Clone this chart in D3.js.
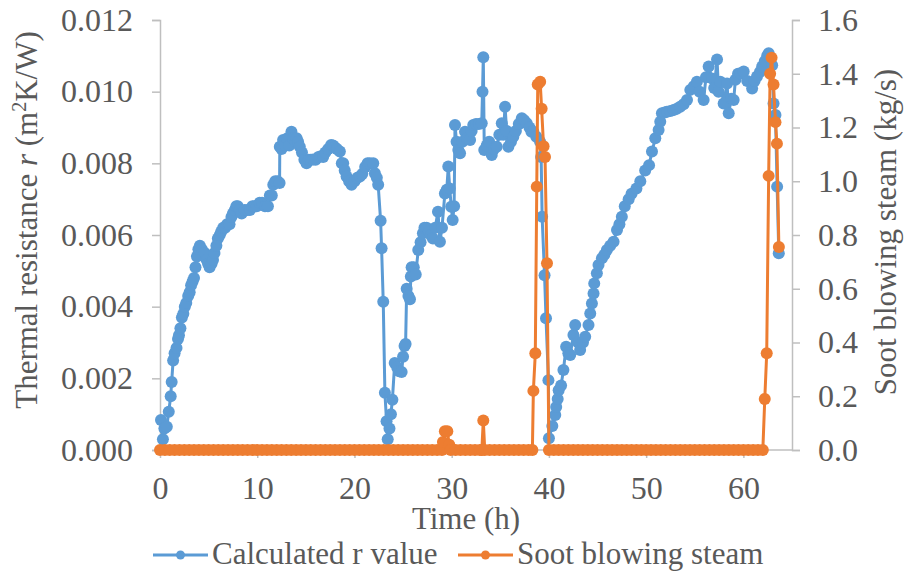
<!DOCTYPE html>
<html>
<head>
<meta charset="utf-8">
<script src="https://cdn.jsdelivr.net/npm/d3@7"></script>
<style>
  body { margin: 0; background: #fff; }
  svg text { font-family: "Liberation Serif", "Times New Roman", Times, serif; fill: #595959; }
</style>
</head>
<body>
<div id="chart"></div>
<script>
// calculated thermal resistance r (m2K/W) against time (h)
var rTime = [0.1, 0.3, 0.45, 0.7, 0.9, 1.1, 1.2, 1.35, 1.5, 1.7, 1.85, 1.95, 2.1, 2.25, 2.4, 2.55, 2.7, 2.9, 3.05, 3.2, 3.35, 3.5, 3.65, 3.8, 3.95, 4.1, 4.3, 4.6, 4.8, 4.95, 5.1, 5.3, 5.45, 5.6, 5.8, 5.95, 6.15, 6.3, 6.5, 6.7, 6.9, 7.15, 7.35, 7.5, 7.7, 7.85, 8.0, 8.2, 8.4, 8.7, 9.0, 9.25, 9.5, 9.7, 9.95, 10.25, 10.5, 10.8, 11.1, 11.3, 11.5, 11.65, 11.85, 12.1, 12.3,
  12.32, 12.5, 12.66, 12.9, 13.1, 13.3, 13.52, 13.7, 13.9, 14.05, 14.2, 14.38, 14.6, 14.85, 15.07, 15.3, 15.5, 15.75, 16.0, 16.3, 16.55, 16.78, 17.0, 17.3, 17.6, 17.8, 17.98, 18.2, 18.5, 18.7, 18.84, 19.0, 19.19, 19.45, 19.7, 20.0, 20.3, 20.56, 20.8, 21.1, 21.35, 21.59, 21.93, 22.1, 22.3, 22.44, 22.69, 22.79, 22.96, 23.13, 23.3, 23.42, 23.6, 23.75, 23.9,
  24.14, 24.4, 24.6, 24.85, 25.0, 25.15, 25.26, 25.37, 25.55, 25.71, 25.8, 25.88, 26.1, 26.3, 26.56, 26.8, 27.04, 27.2, 27.42, 27.65, 27.85, 28.07, 28.3, 28.59, 28.79, 29.0, 29.3, 29.49, 29.65, 29.8, 29.95, 30.1, 30.25, 30.34, 30.5, 30.68, 30.86, 31.1, 31.37, 31.6, 31.89, 32.05, 32.22, 32.5, 32.8, 33.09, 33.17, 33.25, 33.35, 33.6, 33.85, 34.12, 34.35, 34.63, 34.9, 35.15, 35.3, 35.49, 35.65, 35.83, 36.1, 36.34, 36.6, 36.9, 37.21, 37.45, 37.72, 38.0, 38.2, 38.4, 38.7, 39.09, 39.2, 39.3, 39.55, 39.7, 39.95,
  40.0, 40.35, 40.65, 40.75, 40.9, 41.0, 41.25, 41.49, 41.77, 42.0, 42.19, 42.52, 42.7, 43.0, 43.21, 43.5, 43.73, 44.07, 44.25, 44.42, 44.59, 44.66, 44.93, 45.1, 45.45, 45.7, 45.96, 46.3, 46.65, 47.0, 47.25, 47.5, 47.8, 48.2, 48.5, 49.0, 49.4, 49.9, 50.3, 50.6, 50.94, 51.28, 51.45, 51.62, 51.9, 52.14, 52.5, 52.82, 53.15, 53.5, 53.85, 54.2, 54.54, 54.9, 55.22, 55.5, 55.91, 56.15, 56.43, 56.78, 57.0, 57.29, 57.45, 57.63, 57.97, 58.32, 58.49, 58.75, 59.0, 59.18, 59.45, 59.7, 60.03, 60.4, 60.9, 61.15, 61.4, 61.7, 61.93, 62.2, 62.45, 62.6, 62.8, 62.96, 63.1, 63.3, 63.47, 63.64];
var rValue = [0.00084, 0.00030, 0.00060, 0.00065, 0.00107, 0.00150, 0.00190, 0.00250, 0.00270, 0.00285, 0.00310, 0.00320, 0.00340, 0.00370, 0.00380, 0.00400, 0.00410, 0.00430, 0.00440, 0.00460, 0.00470, 0.00480, 0.00510, 0.00540, 0.00560, 0.00570, 0.00560, 0.00550, 0.00530, 0.00520, 0.00510, 0.00520, 0.00530, 0.00550, 0.00570, 0.00590, 0.00600, 0.00610, 0.00620, 0.00620, 0.00630, 0.00630, 0.00650, 0.00660, 0.00670, 0.00680, 0.00680, 0.00670, 0.00660, 0.00670, 0.00670, 0.00670, 0.00680, 0.00680, 0.00680, 0.00690, 0.00690, 0.00680, 0.00680, 0.00710, 0.00710, 0.00740, 0.00750, 0.00750, 0.00745,
  0.00846, 0.00840, 0.00865, 0.00850, 0.00870, 0.00850, 0.00888, 0.00870, 0.00860, 0.00870, 0.00860, 0.00846, 0.00830, 0.00810, 0.00800, 0.00810, 0.00810, 0.00811, 0.00810, 0.00818, 0.00820, 0.00818, 0.00830, 0.00840, 0.00851, 0.00850, 0.00845, 0.00840, 0.00833, 0.00800, 0.00800, 0.00780, 0.00763, 0.00750, 0.00740, 0.00750, 0.00760, 0.00763, 0.00770, 0.00790, 0.00800, 0.00800, 0.00800, 0.00772, 0.00760, 0.00740, 0.00640, 0.00563, 0.00414, 0.00160, 0.00080, 0.00030, 0.00060, 0.00100, 0.00140,
  0.00243, 0.00230, 0.00220, 0.00218, 0.00260, 0.00290, 0.00296, 0.00450, 0.00430, 0.00421, 0.00484, 0.00510, 0.00510, 0.00490, 0.00558, 0.00580, 0.00605, 0.00620, 0.00620, 0.00610, 0.00600, 0.00590, 0.00620, 0.00665, 0.00581, 0.00620, 0.00716, 0.00726, 0.00791, 0.00730, 0.00679, 0.00642, 0.00680, 0.00907, 0.00860, 0.00837, 0.00828, 0.00860, 0.00888, 0.00870, 0.00865, 0.00890, 0.00907, 0.00910, 0.00910, 0.00912, 0.01000, 0.01096, 0.00837, 0.00850, 0.00860, 0.00823, 0.00840, 0.00846, 0.00880, 0.00912, 0.00880, 0.00958, 0.00890, 0.00846, 0.00860, 0.00874, 0.00890, 0.00910, 0.00926, 0.00920, 0.00912, 0.00900, 0.00888, 0.00888, 0.00874, 0.00860, 0.00818, 0.00651, 0.00488, 0.00368, 0.00195,
  0.00033, 0.00067, 0.00098, 0.00120, 0.00142, 0.00167, 0.00180, 0.00223, 0.00288, 0.00270, 0.00265, 0.00321, 0.00349, 0.00300, 0.00279, 0.00300, 0.00316, 0.00349, 0.00381, 0.00409, 0.00437, 0.00465, 0.00493, 0.00516, 0.00535, 0.00545, 0.00558, 0.00570, 0.00581, 0.00614, 0.00630, 0.00651, 0.00680, 0.00700, 0.00715, 0.00730, 0.00750, 0.00780, 0.00795, 0.00833, 0.00870, 0.00893, 0.00916, 0.00940, 0.00942, 0.00944, 0.00946, 0.00949, 0.00952, 0.00958, 0.00965, 0.00977, 0.01005, 0.01015, 0.01028, 0.01000, 0.00977, 0.01040, 0.01070, 0.01037, 0.01010, 0.01090, 0.01000, 0.01028, 0.00967, 0.01023, 0.00940, 0.00980, 0.00977, 0.01033, 0.01050, 0.01051, 0.01056, 0.01030, 0.01009, 0.01030, 0.01042, 0.01055, 0.01070, 0.01085, 0.01100, 0.01107, 0.01095, 0.01074, 0.00967, 0.00935, 0.00735, 0.00549];

// soot blowing steam (kg/s) against time (h)
var steamTime = [0, 0.5, 1, 1.5, 2, 2.5, 3, 3.5, 4, 4.5, 5, 5.5, 6, 6.5, 7, 7.5, 8, 8.5, 9, 9.5, 10, 10.5, 11, 11.5, 12, 12.5, 13, 13.5, 14, 14.5, 15, 15.5, 16, 16.5, 17, 17.5, 18, 18.5, 19, 19.5, 20, 20.5, 21, 21.5, 22, 22.5, 23, 23.5, 24, 24.5, 25, 25.5, 26, 26.5, 27, 27.5, 28, 28.5, 29.0,
  29.1, 29.3, 29.55, 29.75, 29.9, 30.4, 30.9, 31.4, 31.9, 32.4, 32.9, 33.1, 33.25, 33.4, 33.9, 34.4, 34.9, 35.4, 35.9, 36.4, 36.9, 37.4, 37.9, 38.3,
  38.4, 38.6, 38.75, 38.85, 39.1, 39.25, 39.45, 39.6, 39.8, 40.0,
  40.5, 41, 41.5, 42, 42.5, 43, 43.5, 44, 44.5, 45, 45.5, 46, 46.5, 47, 47.5, 48, 48.5, 49, 49.5, 50, 50.5, 51, 51.5, 52, 52.5, 53, 53.5, 54, 54.5, 55, 55.5, 56, 56.5, 57, 57.5, 58, 58.5, 59, 59.5, 60, 60.5, 61, 61.5, 62.0,
  62.2, 62.4, 62.6, 62.75, 62.9, 63.1, 63.3, 63.45, 63.65];
var steamValue = [0, 0, 0, 0, 0, 0, 0, 0, 0, 0, 0, 0, 0, 0, 0, 0, 0, 0, 0, 0, 0, 0, 0, 0, 0, 0, 0, 0, 0, 0, 0, 0, 0, 0, 0, 0, 0, 0, 0, 0, 0, 0, 0, 0, 0, 0, 0, 0, 0, 0, 0, 0, 0, 0, 0, 0, 0, 0, 0,
  0.03, 0.07, 0.07, 0.02, 0, 0, 0, 0, 0, 0, 0, 0, 0.11, 0, 0, 0, 0, 0, 0, 0, 0, 0, 0, 0,
  0.22, 0.36, 0.98, 1.36, 1.37, 1.27, 1.13, 1.09, 0.695, 0,
  0, 0, 0, 0, 0, 0, 0, 0, 0, 0, 0, 0, 0, 0, 0, 0, 0, 0, 0, 0, 0, 0, 0, 0, 0, 0, 0, 0, 0, 0, 0, 0, 0, 0, 0, 0, 0, 0, 0, 0, 0, 0, 0, 0,
  0.19, 0.36, 1.02, 1.40, 1.46, 1.36, 1.22, 1.14, 0.755];

var xTicks = [0, 10, 20, 30, 40, 50, 60];
var rTicks = [0, 0.002, 0.004, 0.006, 0.008, 0.010, 0.012];
var steamTicks = [0, 0.2, 0.4, 0.6, 0.8, 1.0, 1.2, 1.4, 1.6];

var seriesNames = ["Calculated r value", "Soot blowing steam"];
var seriesColors = ["#5b9bd5", "#ed7d31"];

var width = 905, height = 574;
var margin = {top: 20, right: 113, bottom: 124, left: 160};
var fontStack = "'Liberation Serif', 'Times New Roman', Times, serif";

var svg = d3.select("#chart")
  .append("svg")
  .attr("width", width)
  .attr("height", height)
  .attr("font-family", fontStack);

var x = d3.scaleLinear().domain([0, 65]).range([margin.left, width - margin.right]);
var yL = d3.scaleLinear().domain([0, 0.012]).range([height - margin.bottom, margin.top]);
var yR = d3.scaleLinear().domain([0, 1.6]).range([height - margin.bottom, margin.top]);

// axes
var xAxis = svg.append("g")
  .attr("transform", "translate(0," + (height - margin.bottom) + ")")
  .call(d3.axisBottom(x).tickValues(xTicks).tickSize(8).tickPadding(18).tickFormat(d3.format("d")));
var leftAxis = svg.append("g")
  .attr("transform", "translate(" + margin.left + ",0)")
  .call(d3.axisLeft(yL).tickValues(rTicks).tickSize(8).tickPadding(19).tickFormat(d3.format(".3f")));
var rightAxis = svg.append("g")
  .attr("transform", "translate(" + (width - margin.right) + ",0)")
  .call(d3.axisRight(yR).tickValues(steamTicks).tickSize(8).tickPadding(18).tickFormat(d3.format(".1f")));

[xAxis, leftAxis, rightAxis].forEach(function(a) {
  a.attr("font-family", fontStack).attr("font-size", 32);
  a.selectAll("path, line").attr("stroke", "#bfbfbf").attr("stroke-width", 1.5);
  a.selectAll("text").attr("fill", "#595959");
});
xAxis.select(".domain").attr("d", "M" + x.range()[0] + ",0H" + x.range()[1]);

// axis titles
svg.append("text")
  .attr("x", 466).attr("y", 529)
  .attr("text-anchor", "middle")
  .style("font-size", "31px")
  .text("Time (h)");

var lt = svg.append("text")
  .attr("transform", "translate(37,220) rotate(-90)")
  .attr("text-anchor", "middle")
  .style("font-size", "31px");
lt.append("tspan").text("Thermal resistance ");
lt.append("tspan").style("font-style", "italic").text("r");
lt.append("tspan").text(" (m");
lt.append("tspan").attr("dy", -11).style("font-size", "20px").text("2");
lt.append("tspan").attr("dy", 11).text("K/W)");

svg.append("text")
  .attr("transform", "translate(896,232) rotate(-90)")
  .attr("text-anchor", "middle")
  .style("font-size", "31px")
  .text("Soot blowing steam (kg/s)");

// series
var rData = rTime.map(function(t, i) { return {t: t, v: rValue[i]}; });
var steamData = steamTime.map(function(t, i) { return {t: t, v: steamValue[i]}; });

function drawSeries(data, y, color) {
  var g = svg.append("g");
  g.append("path")
    .datum(data)
    .attr("fill", "none")
    .attr("stroke", color)
    .attr("stroke-width", 3)
    .attr("stroke-linejoin", "round")
    .attr("d", d3.line().x(function(d) { return x(d.t); }).y(function(d) { return y(d.v); }));
  g.selectAll("circle")
    .data(data)
    .enter()
    .append("circle")
    .attr("cx", function(d) { return x(d.t); })
    .attr("cy", function(d) { return y(d.v); })
    .attr("r", 6)
    .attr("fill", color);
}
drawSeries(rData, yL, seriesColors[0]);
drawSeries(steamData, yR, seriesColors[1]);

// legend
var legendX = [153, 458];
var legend = svg.append("g");
seriesNames.forEach(function(name, i) {
  var lg = legend.append("g").attr("transform", "translate(" + legendX[i] + ",555)");
  lg.append("line").attr("x1", 0).attr("x2", 55).attr("y1", 0).attr("y2", 0)
    .attr("stroke", seriesColors[i]).attr("stroke-width", 3);
  lg.append("circle").attr("cx", 27.5).attr("cy", 0).attr("r", 4.5).attr("fill", seriesColors[i]);
  lg.append("text").attr("x", 59).attr("y", 9).style("font-size", "31px").text(name);
});
</script>
</body>
</html>
